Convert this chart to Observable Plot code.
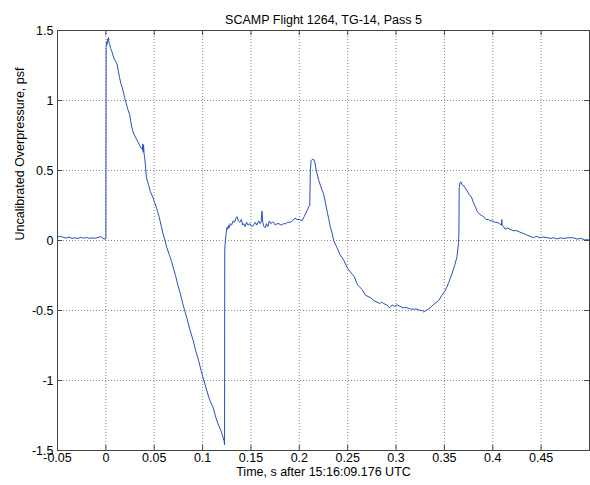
<!DOCTYPE html>
<html><head><meta charset="utf-8">
<script src="https://cdn.jsdelivr.net/npm/d3@7"></script>
<script src="https://cdn.jsdelivr.net/npm/@observablehq/plot@0.6"></script>
<style>body{margin:0;background:#fff}</style>
</head><body><div id="chart"></div>
<script>
const title = "SCAMP Flight 1264, TG-14, Pass 5";
const xLabel = "Time, s after 15:16:09.176 UTC";
const yLabel = "Uncalibrated Overpressure, psf";
const xTicks = [-0.05, 0, 0.05, 0.1, 0.15, 0.2, 0.25, 0.3, 0.35, 0.4, 0.45];
const yTicks = [-1.5, -1, -0.5, 0, 0.5, 1, 1.5];

const time = [
-0.050,-0.047,-0.044,-0.041,-0.038,-0.035,-0.032,-0.029,-0.026,-0.023,-0.020,-0.017,-0.014,-0.011,-0.008,-0.005,-0.003,-0.001,0.0000,
0.0003,0.0008,0.0012,0.0018,0.0023,0.0028,0.0033,0.0040,0.0050,0.0062,0.0074,0.0085,0.0100,0.0115,0.0126,0.0140,0.0155,0.0170,0.0185,0.0194,
0.0210,0.0225,0.0246,0.0260,0.0275,0.0290,0.0305,0.0320,0.0335,0.0349,0.0365,0.0378,0.0382,0.0386,0.0390,0.0395,
0.0401,0.0410,0.0419,0.0440,0.0460,0.0485,0.0505,0.0525,0.0550,0.0574,0.0590,0.0608,0.0630,0.0655,0.0680,0.0695,0.0720,0.0745,0.0770,0.0795,
0.0815,0.0840,0.0870,0.0901,0.0930,0.0960,0.0985,0.1005,0.1030,0.1060,0.1085,0.1108,0.1135,0.1160,0.1185,0.1205,0.1222,0.1227,
0.1229,0.1236,0.1245,0.1252,0.1260,0.1268,0.1275,0.1285,0.1300,0.1315,0.1330,0.1345,0.1356,0.1370,0.1385,0.1400,0.1415,0.1425,0.1440,0.1455,
0.1470,0.1490,0.1510,0.1528,0.1545,0.1560,0.1580,0.1595,0.1605,0.1614,0.1622,0.1635,0.1649,0.1660,0.1675,0.1690,0.1705,0.1720,0.1735,0.1750,
0.1770,0.1790,0.1810,0.1838,0.1860,0.1880,0.1907,0.1930,0.1955,0.1976,0.2000,0.2028,0.2050,0.2070,0.2085,0.2097,0.2108,
0.2114,0.2122,0.2135,0.2148,0.2160,0.2170,0.2183,0.2200,0.2220,0.2235,0.2252,0.2270,0.2290,0.2305,0.2320,0.2340,0.2355,0.2389,0.2420,0.2459,
0.2500,0.2545,0.2570,0.2597,0.2620,0.2650,0.2683,0.2710,0.2740,0.2770,0.2803,0.2830,0.2850,0.2872,0.2900,0.2934,0.2960,0.2985,0.3009,0.3040,
0.3070,0.3113,0.3150,0.3190,0.3216,0.3250,0.3270,0.3285,0.3310,0.3353,0.3400,0.3440,0.3475,0.3508,0.3545,0.3577,0.3605,0.3629,0.3646,0.3650,
0.3653,0.3660,0.3670,0.3680,0.3700,0.3730,0.3755,0.3780,0.3800,0.3820,0.3837,0.3860,0.3880,0.3906,0.3930,0.3955,0.3975,0.4000,0.4025,0.4044,
0.4070,0.4090,0.4093,0.4097,0.4110,0.4128,0.4150,0.4180,0.4210,0.4249,0.4280,0.4318,0.4350,0.4385,0.4420,0.4450,0.4490,0.4525,0.4560,0.4600,
0.4630,0.4660,0.4700,0.4740,0.4780,0.4835,0.4870,0.4910,0.4950,0.4990
];
const overpressure = [
0.025,0.030,0.022,0.018,0.024,0.015,0.020,0.014,0.022,0.017,0.021,0.015,0.019,0.016,0.022,0.028,0.015,0.010,0.012,
1.38,1.42,1.40,1.44,1.43,1.45,1.41,1.40,1.37,1.35,1.32,1.30,1.28,1.26,1.22,1.17,1.12,1.09,1.05,1.02,
0.98,0.94,0.90,0.84,0.79,0.76,0.74,0.72,0.70,0.68,0.66,0.65,0.69,0.63,0.68,0.62,
0.595,0.53,0.45,0.40,0.35,0.31,0.27,0.23,0.17,0.10,0.05,0.01,-0.05,-0.10,-0.15,-0.19,-0.25,-0.32,-0.38,-0.45,
-0.50,-0.56,-0.64,-0.71,-0.79,-0.86,-0.93,-0.98,-1.04,-1.11,-1.16,-1.19,-1.26,-1.31,-1.35,-1.39,-1.43,-1.46,
-0.07,0.00,0.06,0.095,0.08,0.11,0.09,0.12,0.11,0.14,0.13,0.16,0.17,0.14,0.13,0.15,0.11,0.12,0.10,0.13,
0.11,0.12,0.10,0.11,0.13,0.11,0.14,0.12,0.13,0.21,0.13,0.10,0.09,0.12,0.10,0.14,0.12,0.13,0.13,0.11,
0.12,0.12,0.11,0.12,0.12,0.13,0.13,0.14,0.16,0.15,0.15,0.14,0.17,0.20,0.22,0.24,0.25,
0.50,0.57,0.58,0.58,0.56,0.52,0.48,0.43,0.39,0.36,0.33,0.27,0.20,0.15,0.10,0.05,0.00,-0.05,-0.10,-0.14,
-0.20,-0.24,-0.26,-0.31,-0.33,-0.35,-0.39,-0.40,-0.41,-0.43,-0.44,-0.45,-0.44,-0.45,-0.46,-0.48,-0.46,-0.47,-0.46,-0.47,
-0.48,-0.48,-0.49,-0.49,-0.49,-0.50,-0.50,-0.51,-0.50,-0.48,-0.45,-0.43,-0.39,-0.36,-0.30,-0.24,-0.18,-0.12,-0.02,0.06,
0.38,0.41,0.42,0.40,0.39,0.36,0.33,0.31,0.27,0.24,0.21,0.19,0.18,0.17,0.15,0.15,0.14,0.14,0.13,0.13,
0.12,0.11,0.15,0.11,0.10,0.08,0.09,0.08,0.07,0.07,0.06,0.05,0.04,0.03,0.02,0.03,0.02,0.025,0.02,0.015,
0.02,0.012,0.018,0.015,0.02,0.019,0.01,0.015,0.005,0.005
];

const data = time.map((t, i) => ({t, p: overpressure[i]}));
const axisColor = "#444";
const gridColor = "#8a8a8a";
const fs = 12.5;

const chart = Plot.plot({
  width: 590, height: 485,
  marginLeft: 57, marginRight: 1, marginTop: 30, marginBottom: 35,
  style: {fontFamily: "'Liberation Sans', Arial, Helvetica, sans-serif", fontSize: fs + "px", background: "#fff", color: "#000"},
  x: {domain: [-0.05, 0.5], label: null},
  y: {domain: [-1.5, 1.5], label: null},
  marks: [
    Plot.gridX(xTicks.slice(1), {stroke: gridColor, strokeOpacity: 1, strokeDasharray: "1,2"}),
    Plot.gridY(yTicks.slice(1, -1), {stroke: gridColor, strokeOpacity: 1, strokeDasharray: "1,2"}),
    Plot.line(data, {x: "t", y: "p", stroke: "#2b4fb5", strokeWidth: 1}),
    Plot.frame({stroke: axisColor}),
    Plot.tickX(xTicks, {x: d => d, insetTop: 415, stroke: axisColor}),
    Plot.tickX(xTicks, {x: d => d, insetBottom: 415, stroke: axisColor}),
    Plot.tickY(yTicks, {y: d => d, insetRight: 527, stroke: axisColor}),
    Plot.tickY(yTicks, {y: d => d, insetLeft: 527, stroke: axisColor}),
    Plot.axisX(xTicks, {tickSize: 0, tickPadding: 3, tickFormat: d => String(d), label: null, fontSize: fs}),
    Plot.axisY(yTicks, {tickSize: 0, tickPadding: 4, tickFormat: d => String(d), label: null, fontSize: fs}),
    Plot.text([title], {frameAnchor: "top", dy: -15, fontSize: fs}),
    Plot.text([xLabel], {frameAnchor: "bottom", dy: 25, fontSize: fs}),
    Plot.text([yLabel], {frameAnchor: "left", dx: -38, rotate: -90, fontSize: fs})
  ]
});
document.getElementById("chart").appendChild(chart);
</script>
</body></html>
